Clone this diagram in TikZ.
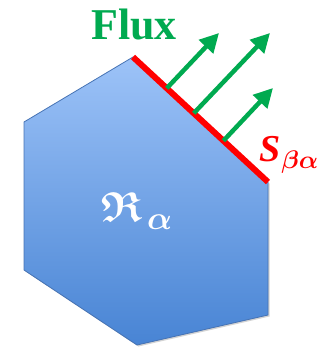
\documentclass[tikz,border=0pt]{standalone}
\usepackage{amsmath,amssymb}
\usepackage{fontspec}
\setmainfont{Liberation Serif}
\usepackage{tikz}
\usetikzlibrary{arrows.meta,positioning,shadows,calc}
\definecolor{regiontop}{RGB}{157,195,248}
\definecolor{regionbot}{RGB}{72,132,212}
\definecolor{regionedge}{RGB}{70,115,180}
\definecolor{fluxgreen}{RGB}{0,170,80}
\definecolor{surfred}{RGB}{255,0,0}

\begin{document}
\begin{tikzpicture}[
        x=1pt, y=-1pt,
        region/.style={top color=regiontop, bottom color=regionbot, draw=regionedge, line width=0.8pt,
            drop shadow={shadow xshift=1.5pt, shadow yshift=-1.5pt, opacity=0.35}},
        surf/.style={draw=surfred, line width=6pt},
        fluxarr/.style={draw=fluxgreen, line width=4.5pt, -{Triangle[length=19pt,width=19pt]}},
        lbl/.style={inner sep=0pt}
    ]
    \useasboundingbox (0,0) rectangle (332,349);
    % region outline
    \coordinate (top) at (133,57);
    \coordinate (ul) at (24,122);
    \coordinate (ll) at (24,270);
    \coordinate (bot) at (137,345);
    \coordinate (lr) at (268,315);
    \coordinate (ur) at (268,182);
    \path[region] (top) -- (ul) -- (ll) -- (bot) -- (lr) -- (ur) -- cycle;
    \draw[surf] (top) -- (ur);

    % flux arrows
    \coordinate (base1) at ($(top)!0.25!(ur)$);
    \coordinate (base2) at ($(top)!0.45!(ur)$);
    \coordinate (base3) at ($(top)!0.67!(ur)$);
    \coordinate (tip1) at (219,33);
    \coordinate (tip2) at (270,33);
    \coordinate (tip3) at (273,88);
    \draw[fluxarr] (base1) -- (tip1);
    \draw[fluxarr] (base2) -- (tip2);
    \draw[fluxarr] (base3) -- (tip3);

    \node[lbl, text=fluxgreen, font=\fontsize{44}{44}\selectfont\bfseries] (flux) at (134,24) {Flux};
    \node[lbl, text=surfred, anchor=base west] (surface) at (259,161)
        {\fontsize{38}{38}\selectfont\bfseries\itshape S\hspace{1pt}\raisebox{-7pt}{\resizebox{37pt}{!}{$\boldsymbol{\beta\alpha}$}}};
    \node[lbl, text=white, anchor=base west] (name) at (101,221)
        {\resizebox{41pt}{!}{$\boldsymbol{\mathfrak{R}}$}\hspace{5pt}\raisebox{-8pt}{\resizebox{25pt}{!}{$\boldsymbol{\alpha}$}}};
\end{tikzpicture}
\end{document}
